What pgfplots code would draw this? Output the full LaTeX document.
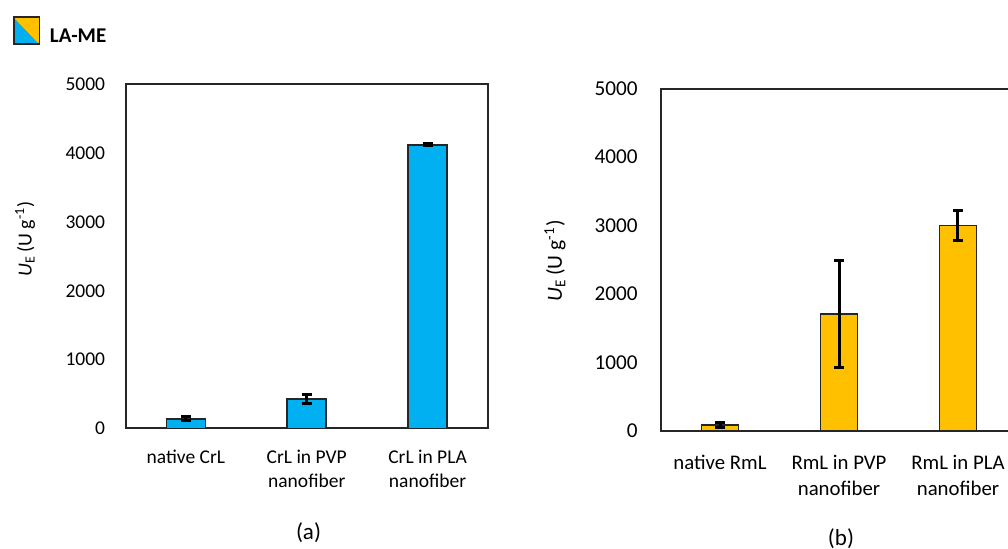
\documentclass[border=0pt]{standalone}
\usepackage{pgfplots}
\usepackage{pgfplotstable}
\pgfplotsset{compat=1.18}
\usepackage{fontspec}
\setmainfont{Carlito}
\definecolor{cblue}{HTML}{00B0F0}
\definecolor{corange}{HTML}{FFC000}
\definecolor{edge}{HTML}{262626}

\pgfplotstableread{
x y e
0 141 30
1 427 60
2 4124 15
}\dataA
\pgfplotstableread{
x y e
0 88 40
1 1711 782
2 3001 224
}\dataB

\pgfplotsset{
  panel/.style={
    scale only axis, anchor=south west,
    ybar, xmin=-0.5, xmax=2.5, ymin=0, ymax=5000,
    xtick={0,1,2}, ytick={0,1000,...,5000},
    major tick length=0pt,
    axis line style={draw=edge, line width=1pt},
    /pgf/number format/assume math mode=true,
    /pgf/number format/1000 sep={},
    clip=false,
  },
  errs/.style={
    error bars/.cd, y dir=both, y explicit,
    error bar style={line width=1.5pt, draw=black},
    error mark options={rotate=90, line width=1.5pt, mark size=2.5pt, draw=black},
  },
}

\begin{document}
\begin{tikzpicture}
\useasboundingbox (0,0) rectangle (504pt,-274.5pt);
\clip (0,0) rectangle (504pt,-274.5pt);

% panel (a)
\begin{axis}[panel,
  at={(62.75pt,-214.25pt)},
  width=181.25pt, height=172pt,
  bar width=19.5pt,
  xticklabels={native CrL,{CrL in PVP\\nanofiber},{CrL in PLA\\nanofiber}},
  yticklabel style={font=\fontsize{9.75}{12}\selectfont, anchor=east, inner sep=0pt, xshift=-10pt},
  xticklabel style={font=\fontsize{9.75}{12.3}\selectfont, align=center, anchor=north, inner sep=0pt, yshift=-10.4pt},
  ylabel={{\itshape U}\textsubscript{E}\,(U g\textsuperscript{-1})},
  ylabel style={at={(axis description cs:-0.277,0.551)}, anchor=center, font=\fontsize{10}{12}\selectfont},
  legend style={at={(axis description cs:-0.311,1.199)}, anchor=north west, draw=none, fill=none,
    inner sep=0pt, column sep=4.85pt, font=\bfseries\fontsize{10.5}{12}\selectfont,
    nodes={inner sep=0pt}},
]
\addlegendimage{legend image code/.code={
  \fill[cblue] (0pt,10pt) -- (0pt,-3.35pt) -- (12.8pt,-3.35pt) -- cycle;
  \fill[corange] (0pt,10pt) -- (12.8pt,10pt) -- (12.8pt,-3.35pt) -- cycle;
  \draw[edge, line width=0.75pt] (0pt,-3.35pt) rectangle (12.8pt,10pt);
}}
\addlegendentry{LA-ME}
\addplot[fill=cblue, draw=edge, line width=0.75pt, errs]
  table[x=x, y=y, y error=e] {\dataA};
\end{axis}

% panel (b)
\begin{axis}[panel,
  at={(330.25pt,-215.5pt)},
  width=178.5pt, height=171.15pt,
  bar width=18.5pt,
  xticklabels={native RmL,{RmL in PVP\\nanofiber},{RmL in PLA\\nanofiber}},
  yticklabel style={font=\fontsize{10.6}{12}\selectfont, anchor=east, inner sep=0pt, xshift=-11.25pt},
  xticklabel style={font=\fontsize{10.4}{13}\selectfont, align=center, anchor=north, inner sep=0pt, yshift=-11.8pt},
  ylabel={{\itshape U}\textsubscript{E}\,(U g\textsuperscript{-1})},
  ylabel style={at={(axis description cs:-0.2955,0.497)}, anchor=center, font=\fontsize{10.8}{12}\selectfont},
]
\addplot[fill=corange, draw=edge, line width=0.75pt, errs]
  table[x=x, y=y, y error=e] {\dataB};
\end{axis}

\node[font=\fontsize{11.5}{13}\selectfont] at (154.25pt,-266.5pt) {(a)};
\node[font=\fontsize{11.5}{13}\selectfont] at (420.5pt,-269.25pt) {(b)};
\end{tikzpicture}
\end{document}
